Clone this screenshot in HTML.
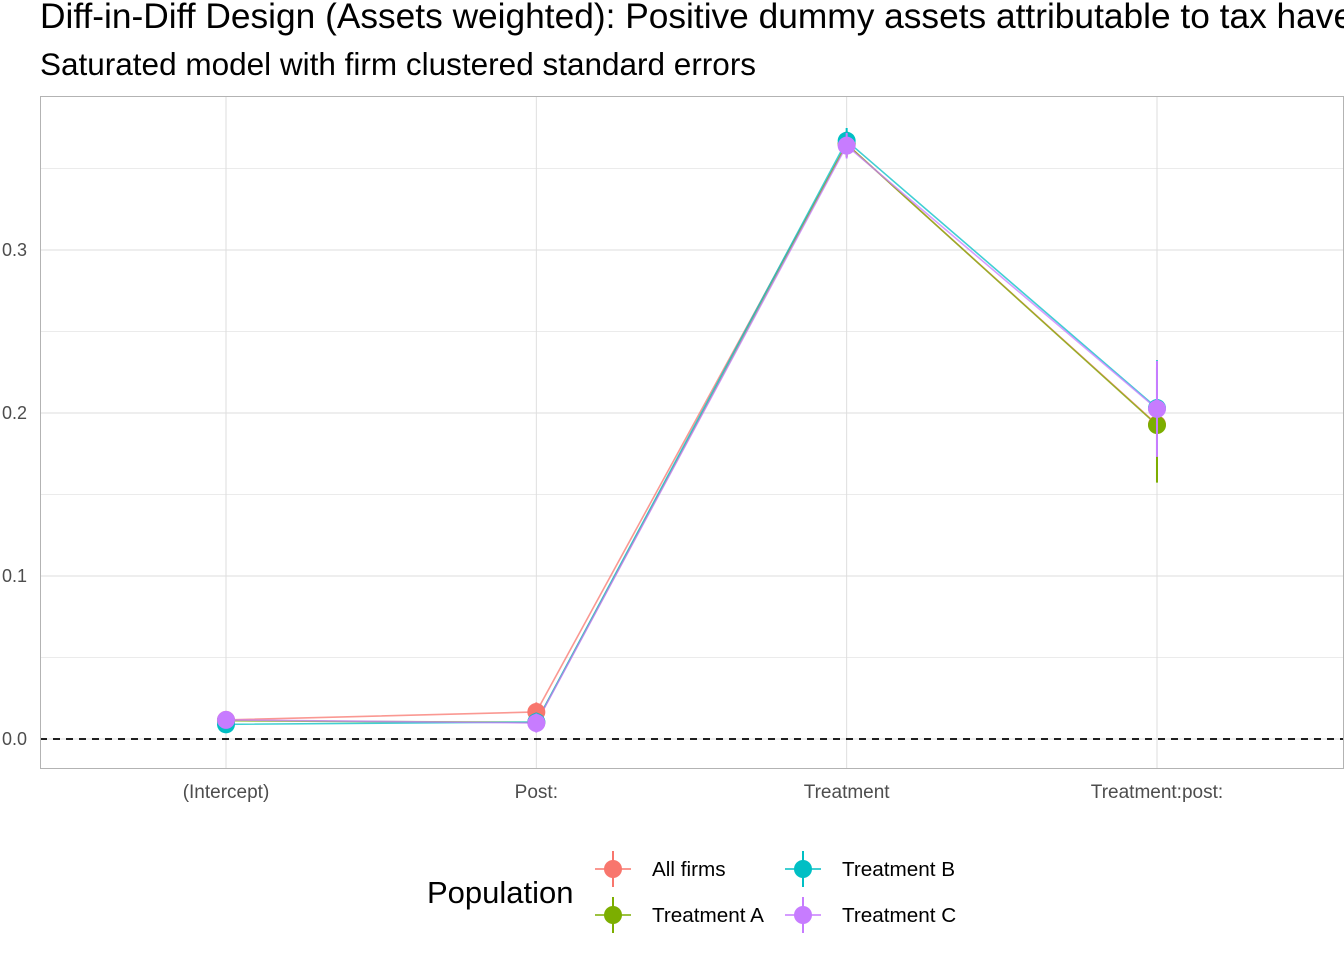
<!DOCTYPE html>
<html><head><meta charset="utf-8"><style>
body{margin:0;background:#fff;width:1344px;height:960px;overflow:hidden;font-family:"Liberation Sans",sans-serif}
</style></head><body>
<svg id="chart" width="1344" height="960" xmlns="http://www.w3.org/2000/svg" font-family="Liberation Sans, sans-serif">
<text x="40" y="28" font-size="35.3" fill="#000">Diff-in-Diff Design (Assets weighted): Positive dummy assets attributable to tax havens</text>
<text x="40" y="75" font-size="31.5" fill="#000">Saturated model with firm clustered standard errors</text>
<g id="grid"></g><g id="marks"></g>
<rect x="40.5" y="96.5" width="1303" height="672" fill="none" stroke="#b3b3b3" stroke-width="1"/>
<g id="legend"></g>
</svg>
<script>
const categories=["(Intercept)","Post:","Treatment","Treatment:post:"];
const series=["All firms","Treatment A","Treatment B","Treatment C"];
const colors=["#F8766D","#7CAE00","#00BFC4","#C77CFF"];
const estAll=[0.0117,0.0166,0.365,0.193];
const estA=[0.0112,0.0102,0.365,0.1926];
const estB=[0.009,0.0104,0.367,0.203];
const estC=[0.0117,0.0098,0.364,0.2025];
const seAll=[0.002,0.003,0.004,0.018];
const seA=[0.002,0.003,0.004,0.018];
const seB=[0.002,0.003,0.004,0.015];
const seC=[0.002,0.003,0.004,0.015];
const yTicks=[0,0.1,0.2,0.3];
const yMinor=[0.05,0.15,0.25,0.35];
const NS="http://www.w3.org/2000/svg";
const xs=i=>226+i*310.33;
const ys=v=>739-v*1630;
function mk(p,t,a){const e=document.createElementNS(NS,t);for(const k in a)e.setAttribute(k,a[k]);p.appendChild(e);return e;}
const grid=document.getElementById('grid'),marks=document.getElementById('marks'),leg=document.getElementById('legend');
yMinor.forEach(v=>{const l=mk(grid,'line',{x1:40,x2:1343,y1:ys(v),y2:ys(v),stroke:'#ebebeb','stroke-width':1});

});
yTicks.forEach(v=>{const l=mk(grid,'line',{x1:40,x2:1343,y1:ys(v),y2:ys(v),stroke:'#dedede','stroke-width':1});


const t=mk(grid,'text',{x:27,y:ys(v)+6,'text-anchor':'end','font-size':18,fill:'#4d4d4d'});t.textContent=v.toFixed(1);

});
categories.forEach((c,i)=>{const l=mk(grid,'line',{x1:xs(i),x2:xs(i),y1:96,y2:768,stroke:'#dedede','stroke-width':1});


const t=mk(grid,'text',{x:xs(i),y:798,'text-anchor':'middle','font-size':19,fill:'#4d4d4d'});t.textContent=c;

});
const zl=mk(grid,'line',{x1:40,x2:1343,y1:ys(0),y2:ys(0),stroke:'#000','stroke-width':1.8,'stroke-dasharray':'7,6'});


const ests=[estAll,estA,estB,estC],ses=[seAll,seA,seB,seC];
ests.forEach((e,s)=>{const pl=mk(marks,'polyline',{points:e.map((v,i)=>xs(i)+','+ys(v)).join(' '),fill:'none',stroke:colors[s],'stroke-width':1.6,opacity:0.75});

});
ests.forEach((e,s)=>{e.forEach((v,i)=>{const b=mk(marks,'line',{x1:xs(i),x2:xs(i),y1:ys(v-1.96*ses[s][i]),y2:ys(v+1.96*ses[s][i]),stroke:colors[s],'stroke-width':2});


const p=mk(marks,'circle',{cx:xs(i),cy:ys(v),r:9,fill:colors[s]});

});});
const lt=mk(leg,'text',{x:427,y:903,'font-size':31,fill:'#000'});lt.textContent='Population';


const pos=[[613,869],[613,915],[803,869],[803,915]];
series.forEach((n,s)=>{const [x,y]=pos[s];const g=mk(leg,'g',{});


mk(g,'line',{x1:x-18,x2:x+18,y1:y,y2:y,stroke:colors[s],'stroke-width':1.6});
mk(g,'line',{x1:x,x2:x,y1:y-18,y2:y+18,stroke:colors[s],'stroke-width':2});
mk(g,'circle',{cx:x,cy:y,r:9,fill:colors[s]});
const t=mk(g,'text',{x:x+39,y:y+7,'font-size':20.7,fill:'#000'});t.textContent=n;});
</script>
</body></html>
